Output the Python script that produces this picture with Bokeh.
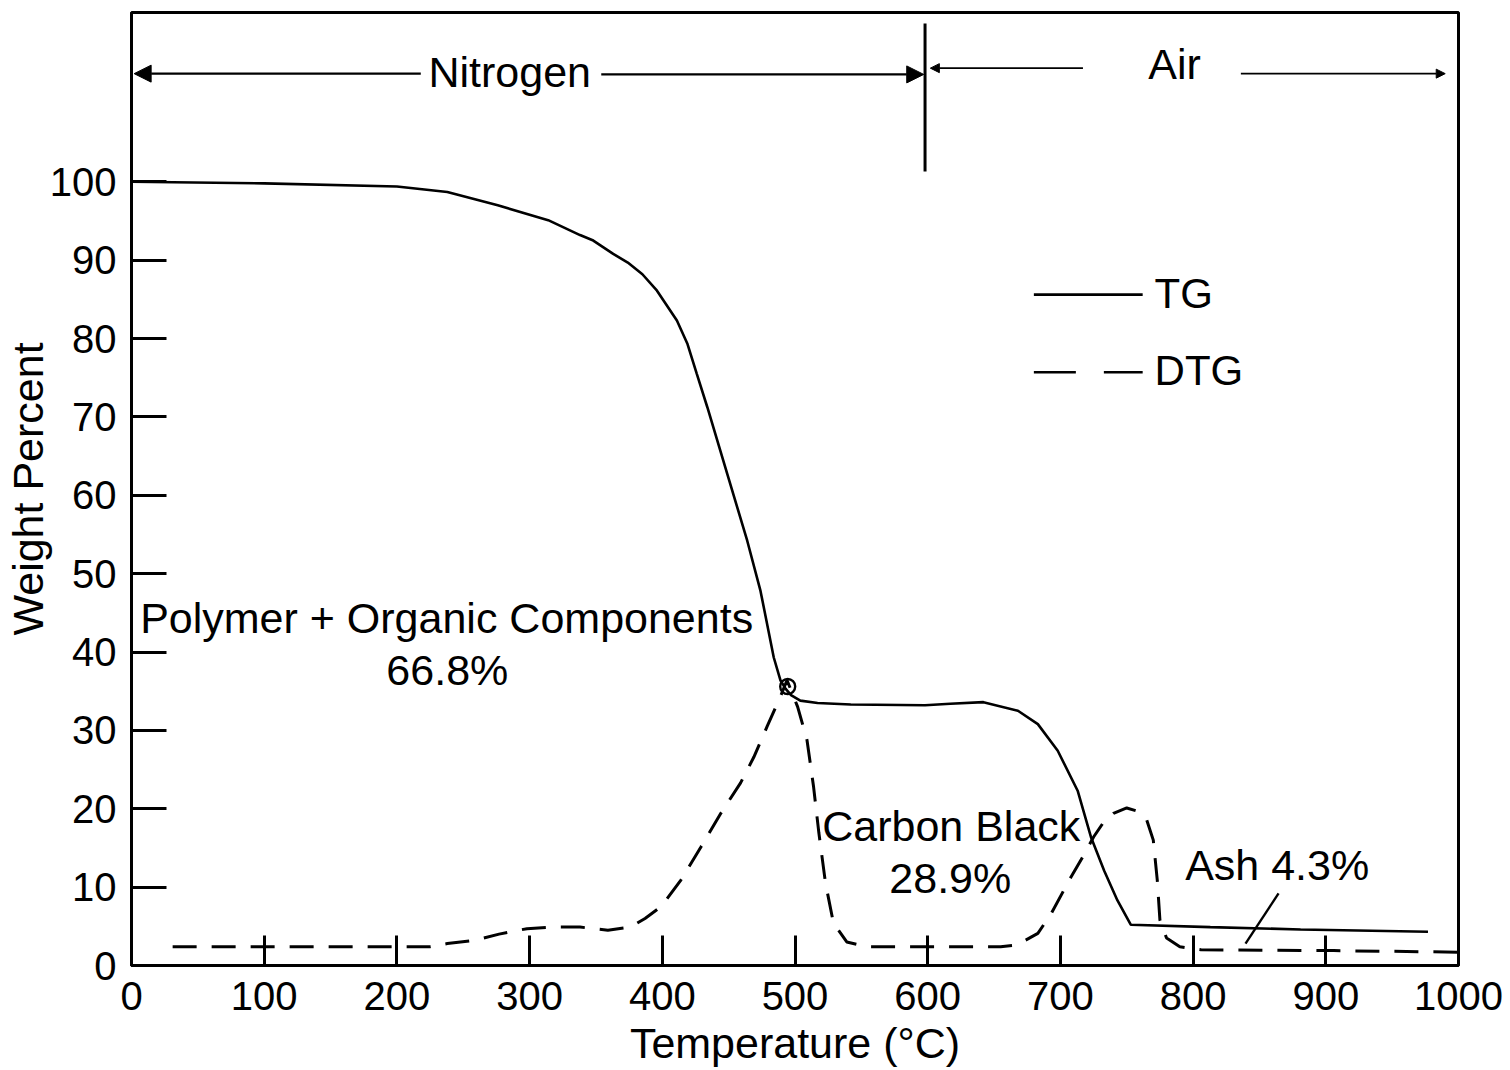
from bokeh.plotting import figure
from bokeh.models import Range1d, FixedTicker, Label, Arrow, NormalHead
from bokeh.embed import file_html
from bokeh.resources import INLINE

# Thermogravimetric curve of a rubber compound: nitrogen up to 600 °C, then air
tg_temp = [0, 100, 200, 238, 276, 314, 338, 348, 363, 374, 385, 396, 411, 419,
           426, 434, 449, 464, 474, 484, 489, 493, 497, 504, 517, 542, 598, 617,
           642, 668, 683, 698, 713, 723, 733, 743, 753, 813, 881, 977]
tg_weight = [100, 99.8, 99.4, 98.7, 97.0, 95.1, 93.2, 92.5, 90.8, 89.7, 88.2,
             86.1, 82.3, 79.3, 75.5, 71.2, 62.7, 54.2, 47.8, 39.3, 36.4, 35.3,
             34.5, 33.8, 33.5, 33.3, 33.2, 33.4, 33.6, 32.5, 30.8, 27.4, 22.3,
             16.4, 12.1, 8.3, 5.2, 4.9, 4.6, 4.3]

# Derivative curve (DTG), drawn on the same scale
dtg_temp = [31, 100, 200, 225, 238, 258, 277, 298, 318, 338, 359, 376, 387, 399,
            414, 429, 444, 459, 469, 479, 489, 494, 502, 509, 514, 518, 523, 529,
            539, 554, 600, 655, 667, 683, 693, 708, 718, 725, 733, 740, 750, 758,
            765, 770, 773, 775, 780, 790, 806, 906, 1000]
dtg_value = [2.4, 2.4, 2.4, 2.4, 2.8, 3.2, 4.0, 4.7, 4.9, 4.9, 4.5, 4.9, 6.0,
             7.5, 10.9, 15.1, 19.4, 23.3, 26.6, 30.5, 34.3, 36.4, 33.0, 28.8,
             22.8, 16.9, 10.5, 5.4, 3.0, 2.4, 2.4, 2.4, 2.6, 4.1, 6.6, 11.3,
             14.2, 16.4, 18.4, 19.4, 20.1, 19.7, 18.6, 16.0, 10.9, 5.8, 3.5,
             2.4, 2.0, 1.9, 1.7]

x_ticks = [0, 100, 200, 300, 400, 500, 600, 700, 800, 900, 1000]
y_ticks = [0, 10, 20, 30, 40, 50, 60, 70, 80, 90, 100]

polymer_pct = 66.8
carbon_black_pct = 28.9
ash_pct = 4.3
switch_temp = 600

FONT = "Liberation Sans"
INK = "black"

p = figure(width=1510, height=1070, output_backend="svg", toolbar_location=None,
           x_range=Range1d(0, 1000), y_range=Range1d(0, 121.6),
           min_border_left=131, min_border_right=52, min_border_top=12,
           min_border_bottom=105)
p.background_fill_color = "white"
p.border_fill_color = "white"
p.outline_line_color = INK
p.outline_line_width = 3
p.xgrid.grid_line_color = None
p.ygrid.grid_line_color = None

for ax, ticks, tick_len in ((p.xaxis, x_ticks, 30), (p.yaxis, y_ticks, 35)):
    ax.ticker = FixedTicker(ticks=ticks)
    ax.major_tick_in = tick_len
    ax.major_tick_out = 0
    ax.minor_tick_line_color = None
    ax.axis_line_width = 3
    ax.axis_line_color = INK
    ax.major_tick_line_width = 3
    ax.major_tick_line_color = INK
    ax.major_label_text_font = FONT
    ax.major_label_text_font_size = "40px"
    ax.major_label_text_color = INK
    ax.axis_label_text_font = FONT
    ax.axis_label_text_font_size = "43px"
    ax.axis_label_text_font_style = "normal"
    ax.axis_label_text_color = INK

p.xaxis.axis_label = "Temperature (°C)"
p.xaxis.major_label_standoff = 16
p.xaxis.axis_label_standoff = 6
p.yaxis.axis_label = "Weight Percent"
p.yaxis.major_label_standoff = 15
p.yaxis.axis_label_standoff = -5
p.yaxis.major_label_orientation = "horizontal"

# curves
p.line(tg_temp, tg_weight, line_color=INK, line_width=2.6)
p.line(dtg_temp, dtg_value, line_color=INK, line_width=3, line_dash="24 15")
# small loop where the two curves meet at the DTG peak
p.scatter([494.5], [35.6], size=15, marker="circle", fill_color=None,
          line_color=INK, line_width=2.4)

# atmosphere markers
p.segment(x0=[switch_temp - 2], y0=[101.3], x1=[switch_temp - 2], y1=[120.2],
          line_color=INK, line_width=3)
big_head = dict(size=17, fill_color=INK, line_color=INK)
small_head = dict(size=9, fill_color=INK, line_color=INK)
p.add_layout(Arrow(end=NormalHead(**big_head), x_start=218, y_start=113.8,
                   x_end=2, y_end=113.8, line_width=2.4, line_color=INK))
p.add_layout(Arrow(end=NormalHead(**big_head), x_start=354, y_start=113.7,
                   x_end=switch_temp - 3, y_end=113.7, line_width=2.4,
                   line_color=INK))
p.add_layout(Arrow(end=NormalHead(**small_head), x_start=717, y_start=114.5,
                   x_end=switch_temp + 2, y_end=114.5, line_width=1.6,
                   line_color=INK))
p.add_layout(Arrow(end=NormalHead(**small_head), x_start=836, y_start=113.8,
                   x_end=990, y_end=113.8, line_width=1.6, line_color=INK))


def add_text(x, y, text, align="center", size="43px"):
    p.add_layout(Label(x=x, y=y, text=text, text_font=FONT, text_font_size=size,
                       text_color=INK, text_align=align, text_baseline="middle"))


add_text(285, 114.0, "Nitrogen")
add_text(786, 115.0, "Air")

# legend drawn as line samples with labels
p.line([680, 762], [85.6, 85.6], line_color=INK, line_width=2.6)
p.line([680, 762], [75.7, 75.7], line_color=INK, line_width=2.6,
       line_dash="42 28")
add_text(771, 85.8, "TG", align="left", size="42px")
add_text(771, 75.9, "DTG", align="left", size="42px")

# decomposition steps
add_text(6.5, 44.3, "Polymer + Organic Components", align="left")
add_text(238, 37.7, f"{polymer_pct}%")
add_text(520.5, 17.8, "Carbon Black", align="left")
add_text(617, 11.2, f"{carbon_black_pct}%")
add_text(794, 12.8, f"Ash {ash_pct}%", align="left")
p.segment(x0=[864.4], y0=[9.2], x1=[839.5], y1=[2.8], line_color=INK,
          line_width=2.4)

open("out.html", "w").write(file_html(p, INLINE))
